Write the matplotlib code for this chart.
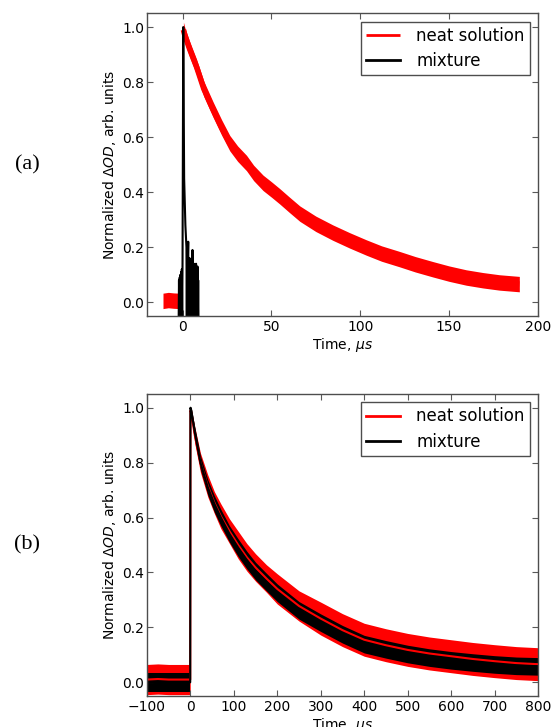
import numpy as np
import matplotlib
matplotlib.use("Agg")
import matplotlib.pyplot as plt

# ---- panel (a): short time window, microseconds ----
neat_a_pre_t = [-11, -8, -5, -1.9]
neat_a_pre_v = [0.005, 0.008, 0.006, 0.005]

neat_a_t = [0.5, 1.3, 4, 7.9, 12, 17.2, 22, 26.6, 31, 36, 40, 45.3, 50, 54.7,
            60, 66, 75, 84.6, 94, 103.4, 112, 122, 131, 140.8, 150, 159.6,
            169, 178.3, 189.5]
neat_a_v = [0.99, 0.97, 0.92, 0.855, 0.775, 0.70, 0.635, 0.578, 0.54, 0.506,
            0.47, 0.434, 0.41, 0.385, 0.355, 0.322, 0.285, 0.253, 0.225,
            0.199, 0.177, 0.157, 0.138, 0.12, 0.104, 0.09, 0.08, 0.072, 0.066]

# mixture in (a): spike then noise burst, read point by point
mix_a_t = [-2.2, -2.0, -1.8, -1.6, -1.4, -1.2, -1.0, -0.8, -0.6, -0.4, -0.2,
           0.0, 0.4, 0.9, 1.6, 2.2, 2.4, 2.6, 2.8, 3.0, 3.2, 3.4, 3.6, 3.8,
           4.0, 4.2, 4.4, 4.6, 4.8, 5.0, 5.2, 5.4, 5.6, 5.8, 6.0, 6.2, 6.4,
           6.6, 6.8, 7.0, 7.2, 7.4, 7.6, 7.8, 8.0, 8.2, 8.4, 8.6, 8.8, 9.0]
mix_a_v = [-0.08, 0.08, -0.08, 0.09, -0.08, 0.10, -0.08, 0.11, -0.08, 0.12,
           -0.05, 0.15, 1.0, 0.45, 0.28, 0.2, -0.08, 0.2, -0.08, 0.16, 0.22,
           -0.08, 0.12, -0.08, 0.16, -0.08, 0.10, -0.08, 0.14, -0.08, 0.12,
           -0.08, 0.19, -0.08, 0.11, -0.08, 0.14, -0.08, 0.08, -0.08, 0.12,
           -0.08, 0.14, -0.08, 0.09, -0.08, 0.13, -0.08, 0.08, -0.08]

# ---- panel (b): long time window ----
pre_b_t = [-100, -75, -50, -25, -0.5]
neat_b_pre_v = [0.01, 0.012, 0.01, 0.01, 0.01]
mix_b_pre_v = [0.0, 0.0, 0.0, 0.0, 0.0]

decay_b_t = [0, 2, 10, 23, 40, 55, 70, 90, 110, 130, 150, 175, 200, 250, 300,
             350, 400, 450, 500, 550, 600, 650, 700, 750, 800]
mix_b_v = [1.0, 0.99, 0.91, 0.80, 0.71, 0.65, 0.60, 0.54, 0.49, 0.445, 0.405,
           0.365, 0.326, 0.262, 0.217, 0.175, 0.139, 0.12, 0.103, 0.09, 0.08,
           0.072, 0.065, 0.06, 0.058]
neat_b_v = [0.99, 0.98, 0.90, 0.80, 0.715, 0.655, 0.605, 0.55, 0.50, 0.455,
            0.418, 0.378, 0.34, 0.278, 0.232, 0.19, 0.155, 0.135, 0.118,
            0.105, 0.095, 0.085, 0.077, 0.07, 0.066]

# visible noise half-widths of the traces (read per point where it varies)
noise_neat_a = 0.028
noise_neat_b_pre = 0.055
noise_mix_b_pre = 0.035
noise_neat_b = [0.005, 0.015, 0.03, 0.035, 0.04, 0.04, 0.045, 0.045, 0.05,
                0.05, 0.05, 0.05, 0.055, 0.055, 0.06, 0.06, 0.06, 0.06, 0.06,
                0.06, 0.06, 0.06, 0.06, 0.06, 0.06]
noise_mix_b = [0.005, 0.01, 0.02, 0.025, 0.028, 0.03, 0.03, 0.03, 0.032,
               0.032, 0.032, 0.032, 0.032, 0.032, 0.032, 0.032, 0.032, 0.032,
               0.032, 0.032, 0.032, 0.032, 0.032, 0.032, 0.032]

RED = "#ff0000"
yticks = [0.0, 0.2, 0.4, 0.6, 0.8, 1.0]


def style_axes(ax, xlim, xticks):
    ax.set_xlim(*xlim)
    ax.set_ylim(-0.05, 1.05)
    ax.set_xticks(xticks)
    ax.set_yticks(yticks)
    ax.tick_params(direction="in", top=True, right=True, length=4,
                   width=0.8, color="0.35", labelsize=10)
    ax.tick_params(axis="y", pad=2)
    ax.tick_params(axis="x", pad=3)
    for s in ax.spines.values():
        s.set_color("0.3")
        s.set_linewidth(1.0)
    ax.set_xlabel(r"Time, $\mu s$", fontsize=10, labelpad=1)
    ax.set_ylabel(r"Normalized $\Delta OD$, arb. units", fontsize=10,
                  labelpad=3)
    leg = ax.legend(loc="upper right", fontsize=12, fancybox=False,
                    handlelength=2.0, handletextpad=1.0, borderpad=0.3,
                    labelspacing=0.45, framealpha=1)
    leg.get_frame().set_edgecolor("0.3")
    leg.get_frame().set_linewidth(1.0)
    for ln in leg.get_lines():
        ln.set_linewidth(2)


fig = plt.figure(figsize=(5.52, 7.27), dpi=100)
ax_a = fig.add_axes([0.2663, 0.5653, 0.7083, 0.4164])
ax_b = fig.add_axes([0.2663, 0.0426, 0.7083, 0.4154])

# (a)
pa = np.array(neat_a_pre_v)
ax_a.fill_between(neat_a_pre_t, pa - noise_neat_a, pa + noise_neat_a,
                  color=RED, lw=0)
na = np.array(neat_a_v)
ax_a.fill_between(neat_a_t, na - noise_neat_a, na + noise_neat_a,
                  color=RED, lw=0)
ax_a.plot(neat_a_t, neat_a_v, color=RED, lw=4, solid_capstyle="butt",
          label="neat solution")
ax_a.plot(mix_a_t, mix_a_v, color="black", lw=1.5, label="mixture")
style_axes(ax_a, (-20, 200), [0, 50, 100, 150, 200])

# (b)
nbp = np.array(neat_b_pre_v)
mbp = np.array(mix_b_pre_v)
nb = np.array(neat_b_v)
mb = np.array(mix_b_v)
nn = np.array(noise_neat_b)
nm = np.array(noise_mix_b)
ax_b.fill_between(pre_b_t, nbp - noise_neat_b_pre, nbp + noise_neat_b_pre,
                  color=RED, lw=0)
ax_b.fill_between(decay_b_t, nb - nn, nb + nn, color=RED, lw=0)
ax_b.plot(pre_b_t + decay_b_t, neat_b_pre_v + neat_b_v, color=RED, lw=1.5,
          label="neat solution")
ax_b.fill_between(pre_b_t, mbp - noise_mix_b_pre, mbp + noise_mix_b_pre,
                  color="black", lw=0)
ax_b.fill_between(decay_b_t, mb - nm, mb + nm, color="black", lw=0)
ax_b.plot(pre_b_t + decay_b_t, mix_b_pre_v + mix_b_v, color="black", lw=1.5,
          label="mixture")
style_axes(ax_b, (-100, 800), [-100, 0, 100, 200, 300, 400, 500, 600, 700, 800])

fig.text(0.049, 0.773, "(a)", family="Liberation Serif", fontsize=16,
         ha="center", va="center")
fig.text(0.049, 0.250, "(b)", family="Liberation Serif", fontsize=16,
         ha="center", va="center")

fig.savefig("out.png", dpi=100)
